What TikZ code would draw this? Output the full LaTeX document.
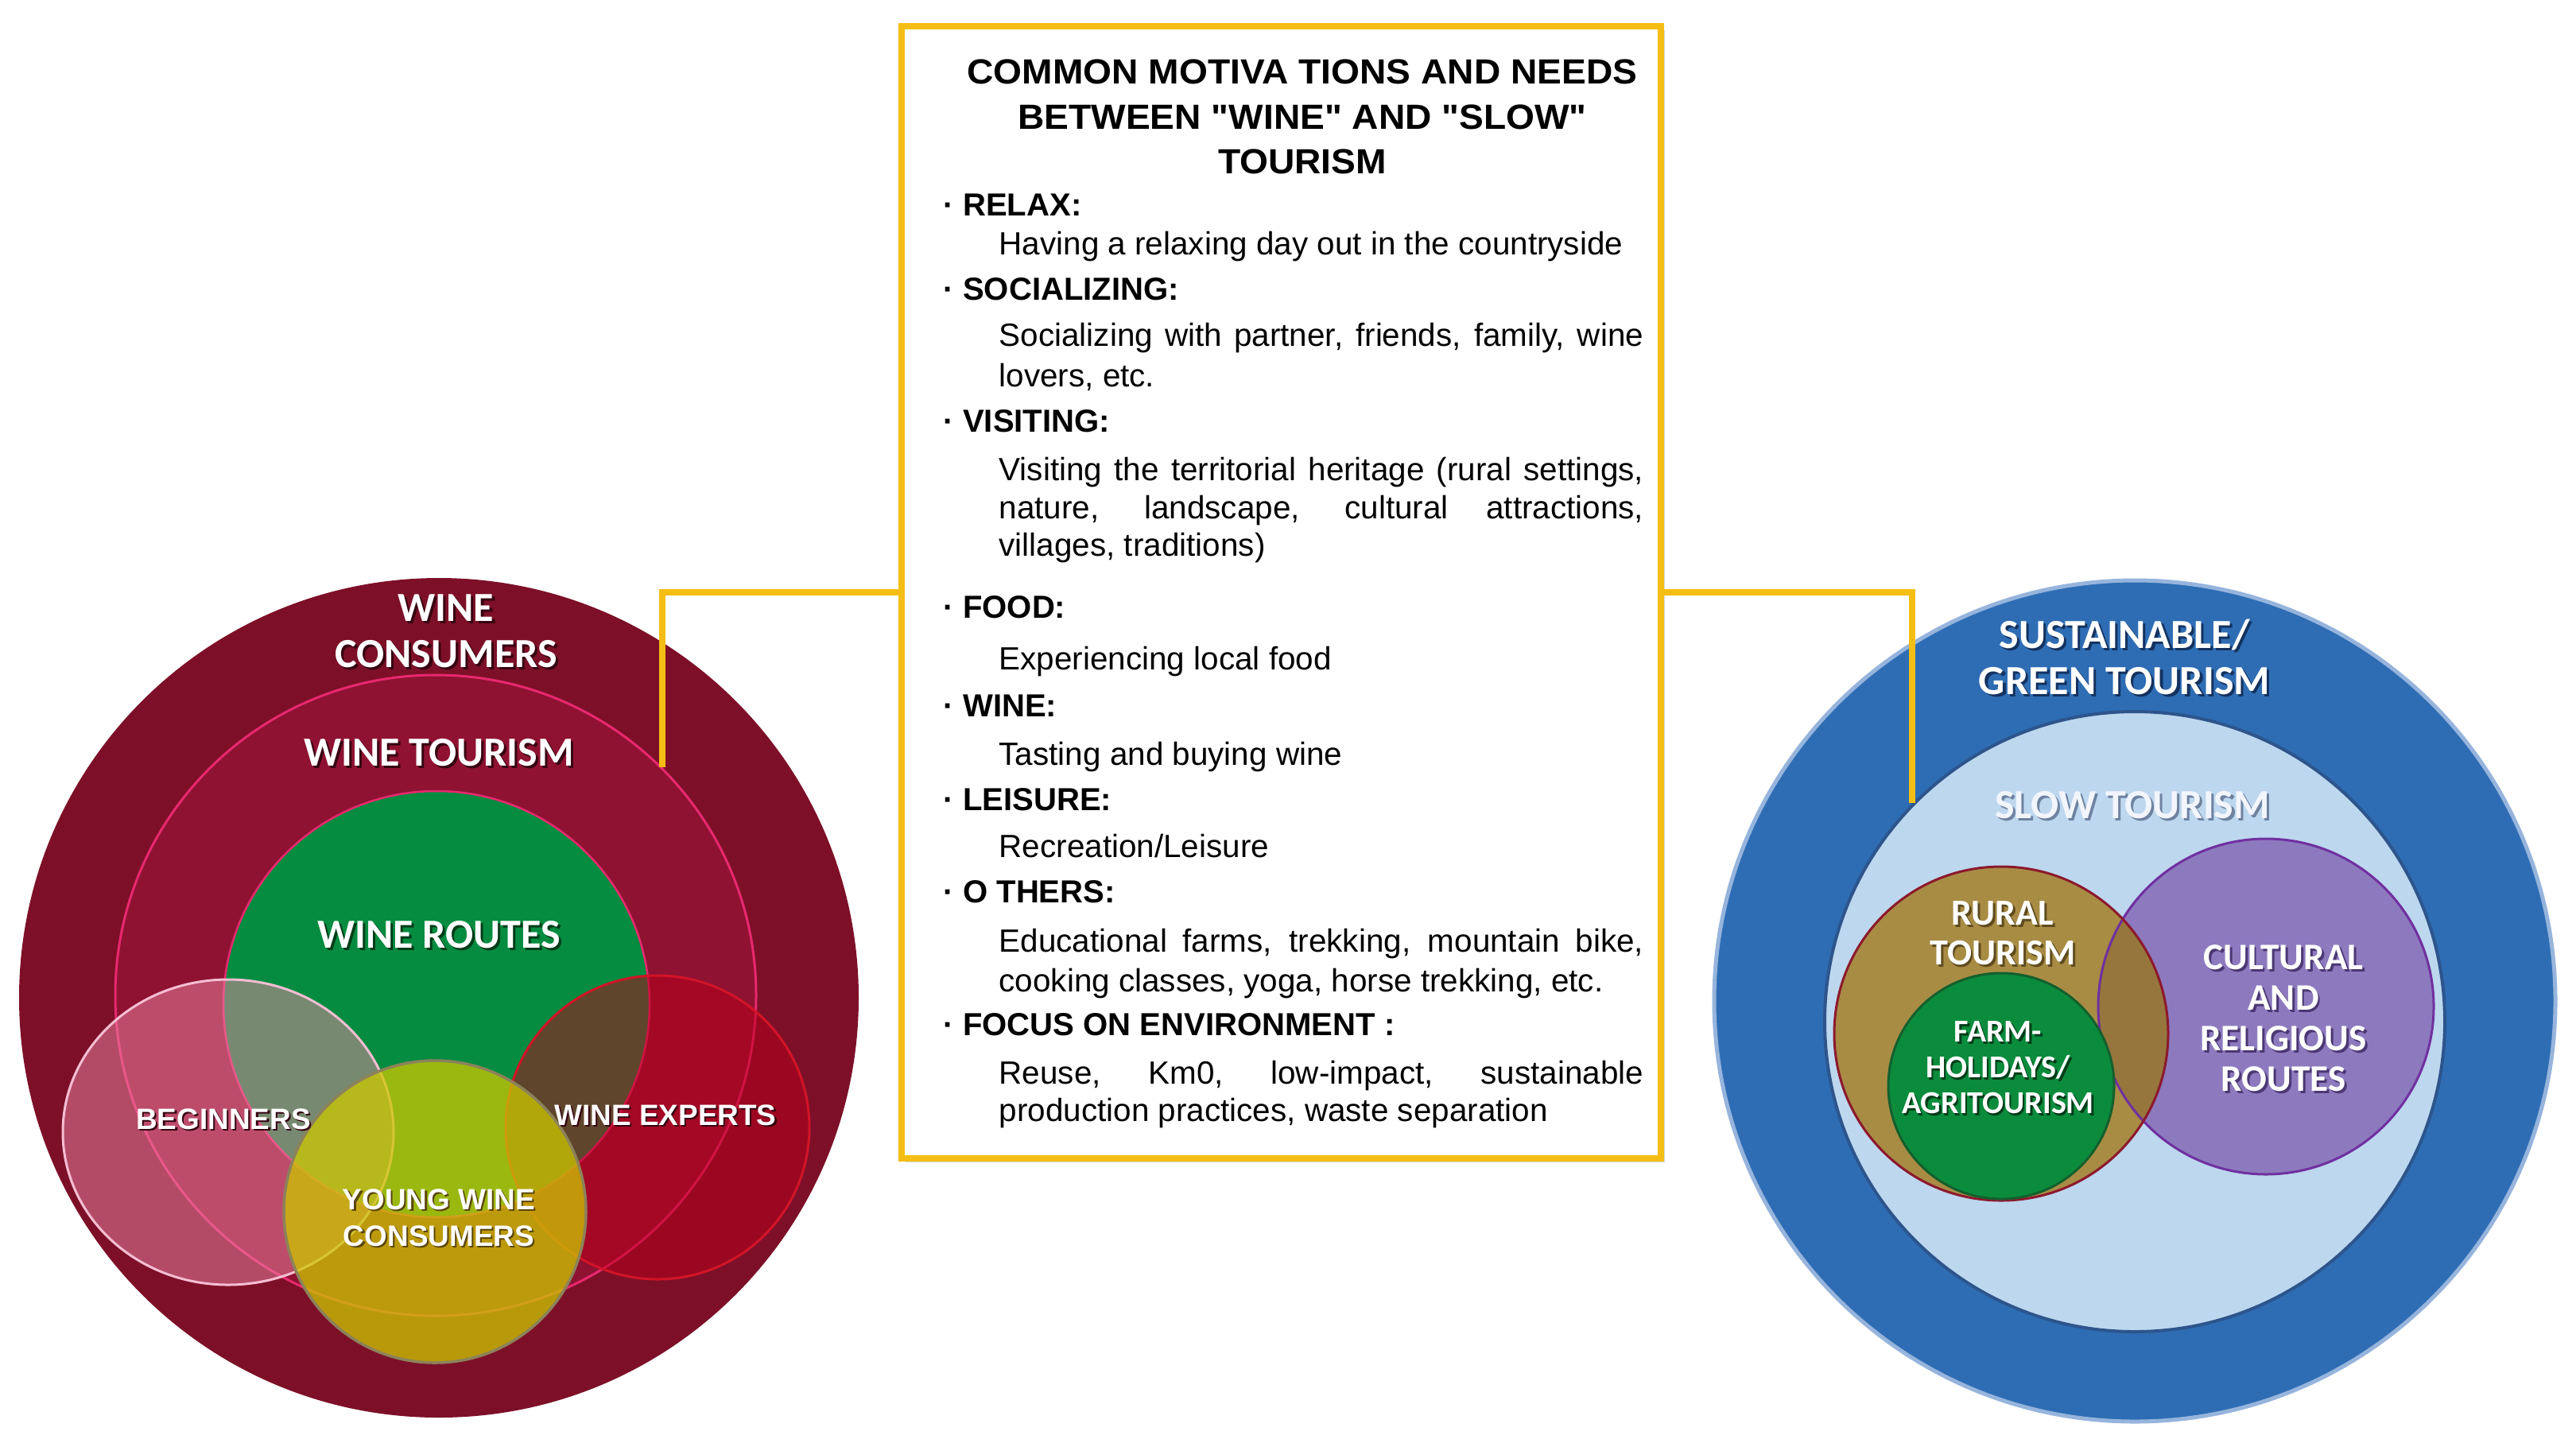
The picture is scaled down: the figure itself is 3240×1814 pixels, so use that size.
\documentclass[tikz,border=0pt]{standalone}
\usepackage{fontspec}
\setmainfont{Liberation Sans}
\newfontfamily\calib{Carlito}
\newfontfamily\ttlfont[FakeStretch=1.05]{Liberation Sans}
\usetikzlibrary{shadows}
\definecolor{burg}{RGB}{125,16,40}
\definecolor{wtf}{RGB}{143,18,50}
\definecolor{wtb}{RGB}{232,40,110}
\definecolor{wrg}{RGB}{6,140,64}
\definecolor{begf}{RGB}{235,135,165}
\definecolor{begb}{RGB}{245,190,210}
\definecolor{expf}{RGB}{185,0,25}
\definecolor{expb}{RGB}{210,20,40}
\definecolor{ywf}{RGB}{205,200,0}
\definecolor{ywb}{RGB}{140,130,90}
\definecolor{blueo}{RGB}{46,109,180}
\definecolor{blueb}{RGB}{150,180,220}
\definecolor{slowf}{RGB}{189,215,238}
\definecolor{slowb}{RGB}{45,85,140}
\definecolor{purp}{RGB}{141,122,190}
\definecolor{purpb}{RGB}{112,48,160}
\definecolor{rural}{RGB}{168,140,68}
\definecolor{ovl}{RGB}{150,118,60}
\definecolor{ruralb}{RGB}{140,25,45}
\definecolor{farm}{RGB}{10,140,60}
\definecolor{farmb}{RGB}{20,95,45}
\definecolor{gold}{RGB}{245,190,20}
\definecolor{shburg}{RGB}{55,5,18}
\definecolor{shgreen}{RGB}{0,60,25}
\definecolor{shblue}{RGB}{20,50,95}
\definecolor{shslow}{RGB}{110,130,160}
\definecolor{slowtxt}{RGB}{242,245,252}
\definecolor{shrural}{RGB}{95,75,30}
\definecolor{shpurp}{RGB}{75,55,115}
\definecolor{shyw}{RGB}{90,70,10}
\newcommand\sh[2][black]{\leavevmode\rlap{\kern0.06em\raisebox{-0.06em}{\textcolor{#1}{#2}}}#2}
\tikzset{
  cl/.style={text=white, align=center, inner sep=0, font=\calib\bfseries\fontsize{14.8pt}{16.5pt}\selectfont},
  al/.style={text=white, align=center, inner sep=0, font=\bfseries\fontsize{10.5pt}{13.1pt}\selectfont},
  ttl/.style={anchor=base, inner sep=0, font=\ttlfont\bfseries\fontsize{12.5pt}{14pt}\selectfont},
  head/.style={anchor=base west, inner sep=0, font=\bfseries\fontsize{11.4pt}{13pt}\selectfont},
  body/.style={anchor=base west, inner sep=0, font=\fontsize{11.5pt}{13pt}\selectfont},
  conn/.style={draw=gold, line width=0.08cm},
}
\begin{document}
\begin{tikzpicture}[x=0.01cm, y=-0.01cm]
\fill[white] (0,0) rectangle (3240,1814);
\useasboundingbox (0,0) rectangle (3240,1814);

% ---------- left circles ----------
\fill[burg] (552,1255) circle [radius=528];
\draw[draw=wtb, line width=0.03cm, fill=wtf] (548,1252) circle [radius=403];
\draw[draw=wtb, line width=0.025cm, fill=wrg] (549,1263) circle [radius=268];
\fill[begf, fill opacity=0.5] (287,1424) ellipse [x radius=208, y radius=192];
\draw[begb, line width=0.03cm] (287,1424) ellipse [x radius=208, y radius=192];
\fill[expf, fill opacity=0.5] (827,1418) circle [radius=191];
\draw[expb, line width=0.03cm] (827,1418) circle [radius=191];
\fill[ywf, fill opacity=0.75] (547,1524) circle [radius=190];
\draw[ywb, line width=0.035cm] (547,1524) circle [radius=190];

\node[cl] (wc) at (561,795) {\sh[shburg]{WINE}\\\sh[shburg]{CONSUMERS}};
\node[cl] (wt) at (552,948) {\sh[shburg]{WINE TOURISM}};
\node[cl] (wr) at (552,1177) {\sh[shgreen]{WINE ROUTES}};
\node[al] (beg) at (281,1409) {\sh[shburg]{BEGINNERS}};
\node[al] (exp) at (837,1404) {\sh[shburg]{WINE EXPERTS}};
\node[al] (yw) at (552,1533) {\sh[shyw]{YOUNG WINE}\\\sh[shyw]{CONSUMERS}};

% ---------- right circles ----------
\draw[draw=blueb, line width=0.05cm, fill=blueo] (2685,1259) circle [radius=529];
\draw[draw=slowb, line width=0.04cm, fill=slowf] (2685,1285) circle [radius=390];
\fill[purp] (2850,1266) circle [radius=211];
\fill[rural] (2517,1300) circle [radius=210];
\begin{scope}
  \clip (2850,1266) circle [radius=211];
  \fill[ovl] (2517,1300) circle [radius=210];
\end{scope}
\draw[purpb, line width=0.03cm] (2850,1266) circle [radius=211];
\draw[ruralb, line width=0.03cm] (2517,1300) circle [radius=210];
\draw[draw=farmb, line width=0.03cm, fill=farm] (2517,1366) circle [radius=142];

\node[cl] (sg) at (2672,828) {\sh[shblue]{SUSTAINABLE/}\\\sh[shblue]{GREEN TOURISM}};
\node[cl, text=slowtxt] (st) at (2682,1014) {\sh[shslow]{SLOW TOURISM}};
\node[cl, font=\calib\bfseries\fontsize{13.1pt}{14.2pt}\selectfont] (rt) at (2519,1175) {\sh[shrural]{RURAL}\\\sh[shrural]{TOURISM}};
\node[cl, font=\calib\bfseries\fontsize{11.4pt}{12.8pt}\selectfont] (fh) at (2513,1344) {\sh[shgreen]{FARM-}\\\sh[shgreen]{HOLIDAYS/}\\\sh[shgreen]{AGRITOURISM}};
\node[cl, font=\calib\bfseries\fontsize{13.4pt}{14.5pt}\selectfont] (cr) at (2872,1282) {\sh[shpurp]{CULTURAL}\\\sh[shpurp]{AND}\\\sh[shpurp]{RELIGIOUS}\\\sh[shpurp]{ROUTES}};

% ---------- central box ----------
\node[draw=gold, line width=0.08cm, fill=white, minimum width=9.55cm, minimum height=14.24cm, inner sep=0,
      drop shadow={shadow xshift=0.05cm, shadow yshift=-0.05cm, opacity=0.3}] (box) at (1611.5,745) {};

\coordinate (lc) at (833,965);
\coordinate (rc) at (2405,1010);
\draw[conn] (box.west) -| (lc);
\draw[conn] (box.east) -| (rc);

\node[ttl] (t1) at (1638,105) {COMMON MOTIVA TIONS AND NEEDS};
\node[ttl] (t2) at (1638,162) {BETWEEN "WINE" AND "SLOW"};
\node[ttl] (t3) at (1638,218) {TOURISM};

\node[head] (h1) at (1186,271) {· RELAX:};
\node[body] (b1) at (1256,320) {Having a relaxing day out in the countryside};
\node[head] (h2) at (1186,377) {· SOCIALIZING:};
\node[body] (b2) at (1256,435) {\makebox[8.1cm][s]{Socializing with partner, friends, family, wine}};
\node[body] (b3) at (1256,486) {lovers, etc.};
\node[head] (h3) at (1186,543) {· VISITING:};
\node[body] (b4) at (1256,604) {\makebox[8.1cm][s]{Visiting the territorial heritage (rural settings,}};
\node[body] (b5) at (1256,652) {\makebox[8.1cm][s]{nature, landscape, cultural attractions,}};
\node[body] (b6) at (1256,699) {villages, traditions)};
\node[head] (h4) at (1186,777) {· FOOD:};
\node[body] (b7) at (1256,842) {Experiencing local food};
\node[head] (h5) at (1186,901) {· WINE:};
\node[body] (b8) at (1256,962) {Tasting and buying wine};
\node[head] (h6) at (1186,1019) {· LEISURE:};
\node[body] (b9) at (1256,1078) {Recreation/Leisure};
\node[head] (h7) at (1186,1135) {· O THERS:};
\node[body] (b10) at (1256,1197) {\makebox[8.1cm][s]{Educational farms, trekking, mountain bike,}};
\node[body] (b11) at (1256,1247) {cooking classes, yoga, horse trekking, etc.};
\node[head] (h8) at (1186,1302) {· FOCUS ON ENVIRONMENT :};
\node[body] (b12) at (1256,1363) {\makebox[8.1cm][s]{Reuse, Km0, low-impact, sustainable}};
\node[body] (b13) at (1256,1410) {production practices, waste separation};
\end{tikzpicture}
\end{document}
